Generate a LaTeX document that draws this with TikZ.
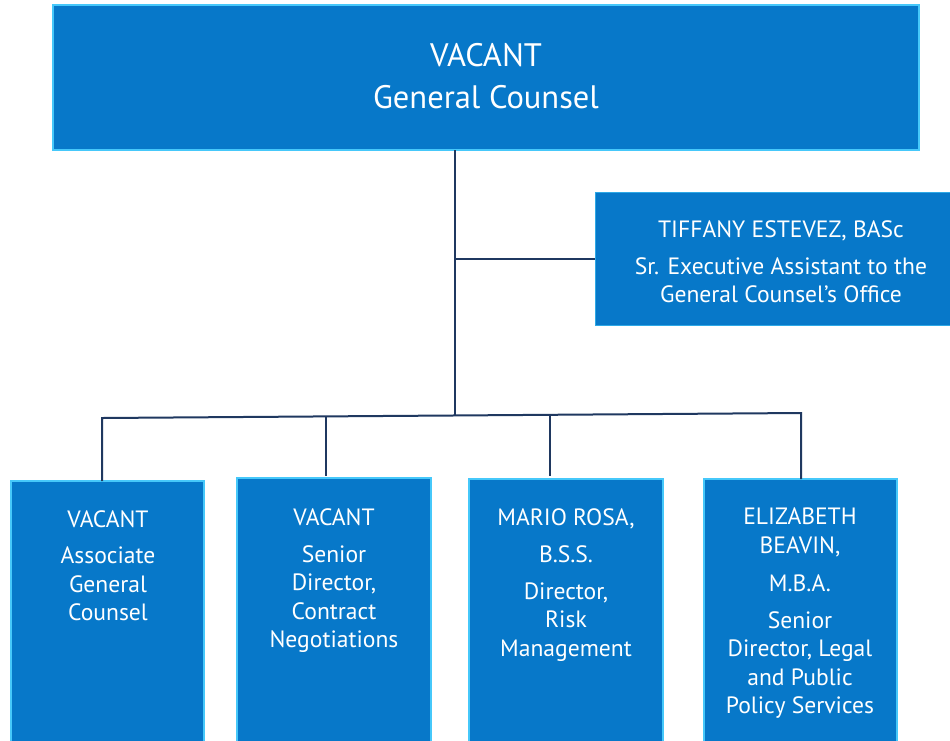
\documentclass[tikz,border=0pt]{standalone}
\usepackage{fontspec}
\setmainfont{PT Sans}
\definecolor{boxblue}{RGB}{7,120,201}
\definecolor{boxedge}{RGB}{70,200,250}
\definecolor{linenavy}{RGB}{31,56,96}
\begin{document}
\begin{tikzpicture}[x=1pt,y=-1pt,
  orgbox/.style={draw=boxedge,line width=1.8pt,fill=boxblue,inner sep=0pt},
  orgtext/.style={text=white,align=center,anchor=north,inner sep=0pt,font=\fontsize{23.6}{28.5}\selectfont},
  conn/.style={draw=linenavy,line width=2pt}]
\clip (0,0) rectangle (950,740);
\fill[white] (0,0) rectangle (950,740);
% boxes
\path[orgbox] (53,5) rectangle (919,150);
\node[inner sep=0pt,minimum width=866pt,minimum height=145pt] (gc) at (486,77.5) {};
\path[orgbox,draw=boxedge!60!boxblue,line width=1pt] (595,192) rectangle (955,325);
\node[inner sep=0pt,minimum width=355pt,minimum height=133pt] (asst) at (772.5,258.5) {};
\path[orgbox] (11,481) rectangle (204,760);
\node[inner sep=0pt,minimum width=193pt,minimum height=10pt,anchor=north] (b1) at (107.5,481) {};
\path[orgbox] (237,478) rectangle (431,760);
\node[inner sep=0pt,minimum width=194pt,minimum height=10pt,anchor=north] (b2) at (334,478) {};
\path[orgbox] (469,479) rectangle (663,760);
\node[inner sep=0pt,minimum width=194pt,minimum height=10pt,anchor=north] (b3) at (566,479) {};
\path[orgbox] (704,479) rectangle (897,760);
\node[inner sep=0pt,minimum width=193pt,minimum height=10pt,anchor=north] (b4) at (800.5,479) {};
% texts
\node[orgtext,font=\fontsize{32.5}{42}\selectfont] (gct) at (486,43) {VACANT\\General Counsel};
\node[orgtext] (asstt) at (781,220) {TIFFANY ESTEVEZ, BASc\\[8.5pt]Sr. Executive Assistant to the\\General Counsel’s Office};
\node[orgtext] (t1) at (108,510) {VACANT\\[8pt]Associate\\General\\Counsel};
\node[orgtext] (t2) at (334,508) {VACANT\\[8.5pt]Senior\\Director,\\Contract\\Negotiations};
\node[orgtext] (t3) at (566,508) {MARIO ROSA,\\[8.5pt]B.S.S.\\[8.5pt]Director,\\Risk\\Management};
\node[orgtext] (t4) at (800,508) {ELIZABETH\\BEAVIN,\\[10pt]M.B.A.\\[8pt]Senior\\Director, Legal\\and Public\\Policy Services};
% connectors
\coordinate (busL) at (102,418);
\coordinate (busR) at (801,413);
\coordinate (trunk) at (455,415.5);
\coordinate (d2) at (326,416.7);
\coordinate (d3) at (550,414.8);
\draw[conn] (gc.south -| trunk) -- (trunk);
\draw[conn] (asst.west) -- (asst.west -| trunk);
\draw[conn] (b1.north -| busL) -- (busL) -- (busR) -- (b4.north -| busR);
\draw[conn] (d2) -- (326,476);
\draw[conn] (d3) -- (550,476);
\end{tikzpicture}
\end{document}
